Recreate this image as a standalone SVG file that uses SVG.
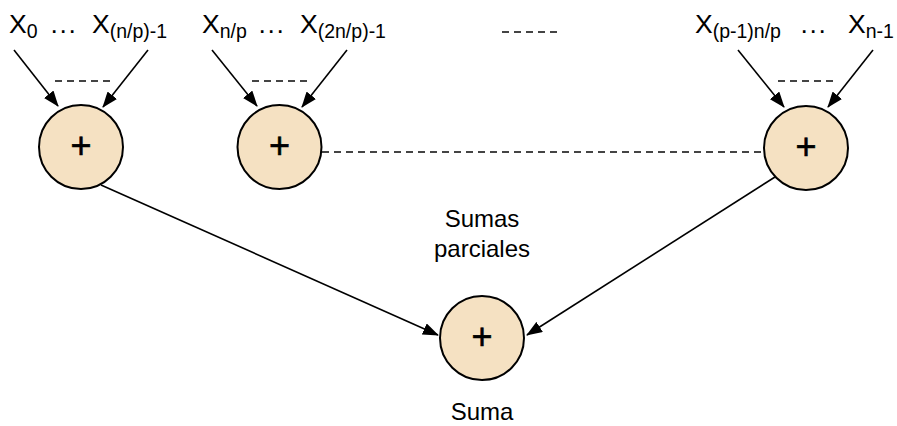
<svg xmlns="http://www.w3.org/2000/svg" width="897" height="426" viewBox="0 0 897 426">
  <style>
    .lbl { font-family: "Liberation Sans", Arial, sans-serif; font-size: 26.5px; fill: #000; }
    .sub { font-size: 19.5px; }
    .dots { letter-spacing: 1.6px; }
    .cap { font-family: "Liberation Sans", Arial, sans-serif; font-size: 24px; fill: #000; text-anchor: middle; }
    .plus { font-family: "Liberation Sans", Arial, sans-serif; font-size: 36px; fill: #000; stroke: #000; stroke-width: 0.6; text-anchor: middle; }
    .node circle { fill: #F5E1C2; stroke: #000; stroke-width: 2; }
    .edge { stroke: #000; stroke-width: 1.6; fill: none; marker-end: url(#arrow); }
    .dash { stroke: #444; stroke-width: 2; stroke-dasharray: 7 5; fill: none; }
  </style>
  <defs>
    <marker id="arrow" markerUnits="userSpaceOnUse" markerWidth="16" markerHeight="12" refX="15" refY="6" orient="auto">
      <path d="M0,0 L16,6 L0,12 Z" fill="#000"/>
    </marker>
  </defs>
  <rect width="897" height="426" fill="#fff"/>

  <!-- input labels -->
  <g id="inputs-1">
    <text class="lbl" x="9" y="33">X<tspan class="sub" dy="5">0</tspan></text>
    <text class="lbl dots" x="50.5" y="33">...</text>
    <text class="lbl" x="92" y="33">X<tspan class="sub" dy="5">(n/p)-1</tspan></text>
  </g>
  <g id="inputs-2">
    <text class="lbl" x="202" y="33">X<tspan class="sub" dy="5">n/p</tspan></text>
    <text class="lbl dots" x="258.5" y="33">...</text>
    <text class="lbl" x="300" y="33">X<tspan class="sub" dy="5">(2n/p)-1</tspan></text>
  </g>
  <g id="inputs-p">
    <text class="lbl" x="695" y="33">X<tspan class="sub" dy="5">(p-1)n/p</tspan></text>
    <text class="lbl dots" x="800.5" y="33">...</text>
    <text class="lbl" x="848" y="33">X<tspan class="sub" dy="5">n-1</tspan></text>
  </g>

  <!-- connectors -->
  <g id="connectors">
    <line class="edge" x1="14" y1="50" x2="58" y2="106"/>
    <line class="edge" x1="148" y1="50" x2="103" y2="107"/>
    <line class="edge" x1="212" y1="50" x2="257" y2="106"/>
    <line class="edge" x1="347" y1="50" x2="302" y2="107"/>
    <line class="edge" x1="738" y1="50" x2="784" y2="107"/>
    <line class="edge" x1="873" y1="50" x2="828" y2="107"/>
    <line class="edge" x1="101" y1="185" x2="438" y2="335"/>
    <line class="edge" x1="775" y1="177" x2="527" y2="335"/>
    <!-- elided inputs and groups -->
    <line class="dash" x1="55" y1="81" x2="110" y2="81"/>
    <line class="dash" x1="252" y1="81" x2="308" y2="81"/>
    <line class="dash" x1="778" y1="81" x2="835" y2="81"/>
    <line class="dash" x1="502" y1="32" x2="560" y2="32" stroke="#222"/>
    <line class="dash" x1="322" y1="152" x2="764" y2="152"/>
  </g>

  <!-- adder nodes -->
  <g id="sum-1" class="node">
    <circle cx="81" cy="147" r="42"/>
    <text class="plus" x="81" y="158">+</text>
  </g>
  <g id="sum-2" class="node">
    <circle cx="279.5" cy="147" r="42"/>
    <text class="plus" x="279.5" y="158">+</text>
  </g>
  <g id="sum-p" class="node">
    <circle cx="806" cy="148" r="42"/>
    <text class="plus" x="806" y="159">+</text>
  </g>
  <g id="sum-total" class="node">
    <circle cx="482" cy="338" r="42"/>
    <text class="plus" x="482" y="349">+</text>
  </g>

  <!-- captions -->
  <g id="captions">
    <text class="cap" x="482" y="227">Sumas</text>
    <text class="cap" x="482" y="257">parciales</text>
    <text class="cap" x="482" y="420">Suma</text>
  </g>
</svg>
